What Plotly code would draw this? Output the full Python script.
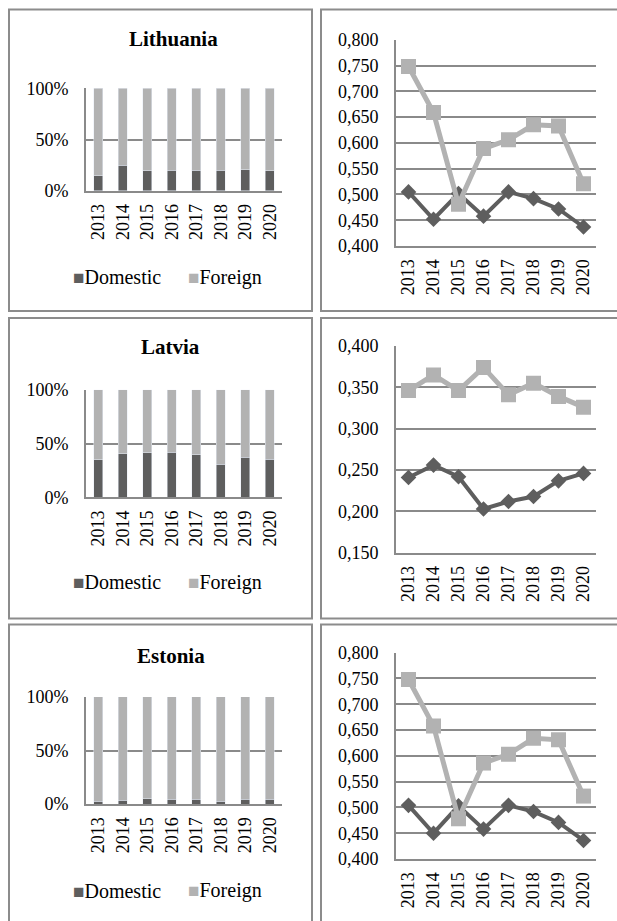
import plotly.graph_objects as go

W, H = 617, 921

years = ["2013", "2014", "2015", "2016", "2017", "2018", "2019", "2020"]
countries = ["Lithuania", "Latvia", "Estonia"]
series_names = ["Domestic", "Foreign"]

# 100% stacked shares (percent)
lt_domestic_share = [14.7, 25.0, 19.5, 20.2, 20.0, 20.0, 20.8, 19.5]
lt_foreign_share = [85.3, 75.0, 80.5, 79.8, 80.0, 80.0, 79.2, 80.5]
lv_domestic_share = [35.0, 40.6, 41.5, 41.8, 39.6, 30.7, 37.2, 35.3]
lv_foreign_share = [65.0, 59.4, 58.5, 58.2, 60.4, 69.3, 62.8, 64.7]
ee_domestic_share = [2.8, 3.7, 5.0, 4.7, 4.7, 2.8, 4.7, 4.7]
ee_foreign_share = [97.2, 96.3, 95.0, 95.3, 95.3, 97.2, 95.3, 95.3]
share_ticks = [0, 50, 100]
share_ticktext = ["0%", "50%", "100%"]

# line chart values
lt_domestic_idx = [0.505, 0.452, 0.502, 0.458, 0.505, 0.492, 0.472, 0.437]
lt_foreign_idx = [0.748, 0.659, 0.481, 0.589, 0.606, 0.635, 0.633, 0.521]
lv_domestic_idx = [0.241, 0.256, 0.242, 0.203, 0.212, 0.218, 0.237, 0.246]
lv_foreign_idx = [0.346, 0.365, 0.346, 0.374, 0.341, 0.355, 0.339, 0.326]
ee_domestic_idx = [0.504, 0.450, 0.503, 0.458, 0.504, 0.492, 0.471, 0.436]
ee_foreign_idx = [0.748, 0.658, 0.478, 0.586, 0.603, 0.634, 0.631, 0.522]

line_ranges = [[0.4, 0.8], [0.15, 0.4], [0.4, 0.8]]

DARK = "#5e5e5e"
LIGHT = "#b2b2b2"
GRID = "#8a8a8a"
BORDER = "#8c8c8c"
FONT = "Liberation Serif"

# empirical vertical correction (rendered = OFF + SCALE * layout pixel)
OFF, SCALE = 9.5, 0.98


def px(x):
    return x / W


def py(y):
    return 1 - ((y - OFF) / SCALE) / H


bar_x = [86, 282]
line_x = [396, 596]
bar_y = [[88, 190.7], [390, 497.7], [697.7, 805]]
line_y = [[39.3, 246], [346, 553.3], [653.3, 860]]
title_pos = [(173, 39), (171, 347), (170.5, 657)]
legend_y = [277, 583, 892]
legend_x = [(117, "center"), (225, "center")]

shares = [(lt_domestic_share, lt_foreign_share),
          (lv_domestic_share, lv_foreign_share),
          (ee_domestic_share, ee_foreign_share)]
idx = [(lt_domestic_idx, lt_foreign_idx),
       (lv_domestic_idx, lv_foreign_idx),
       (ee_domestic_idx, ee_foreign_idx)]

fig = go.Figure()
layout = dict(
    width=W, height=H, margin=dict(l=0, r=0, t=0, b=0, pad=0),
    paper_bgcolor="white", plot_bgcolor="white",
    font=dict(family=FONT, size=18, color="black"),
    barmode="stack", bargap=0.62, separators=", ",
    showlegend=False,
    annotations=[], shapes=[],
)

for i, name in enumerate(countries):
    bn = 2 * i + 1
    ln = 2 * i + 2
    bx = "x" if bn == 1 else f"x{bn}"
    by = "y" if bn == 1 else f"y{bn}"
    lx, ly = f"x{ln}", f"y{ln}"
    dom, forn = shares[i]
    fig.add_trace(go.Bar(x=years, y=dom, name=series_names[0], marker_color=DARK,
                         xaxis=bx, yaxis=by))
    fig.add_trace(go.Bar(x=years, y=forn, name=series_names[1], marker_color=LIGHT,
                         xaxis=bx, yaxis=by))
    d_idx, f_idx = idx[i]
    fig.add_trace(go.Scatter(x=years, y=d_idx, mode="lines+markers", name=series_names[0],
                             line=dict(color=DARK, width=4),
                             marker=dict(symbol="diamond", size=12, color=DARK),
                             xaxis=lx, yaxis=ly))
    fig.add_trace(go.Scatter(x=years, y=f_idx, mode="lines+markers", name=series_names[1],
                             line=dict(color=LIGHT, width=5),
                             marker=dict(symbol="square", size=15, color=LIGHT),
                             xaxis=lx, yaxis=ly))

    xcommon = dict(type="category", range=[-0.5, 7.5], showgrid=False, showline=True,
                   linecolor=GRID, linewidth=2, ticks="", tickangle=-90,
                   tickfont=dict(family=FONT, size=18), fixedrange=True,
                   ticklabelstandoff=4)
    ycommon = dict(showgrid=True, gridcolor=GRID, gridwidth=2, showline=True,
                   linecolor=GRID, linewidth=2, ticks="", zeroline=False,
                   tickfont=dict(family=FONT, size=18), fixedrange=True,
                   ticklabelstandoff=12)
    bxk = "xaxis" if bn == 1 else f"xaxis{bn}"
    byk = "yaxis" if bn == 1 else f"yaxis{bn}"
    layout[bxk] = dict(xcommon, domain=[px(bar_x[0]), px(bar_x[1])], anchor=by)
    layout[byk] = dict(ycommon, domain=[py(bar_y[i][1]), py(bar_y[i][0])], anchor=bx,
                       range=[0, 100], tickvals=share_ticks, ticktext=share_ticktext)
    layout[f"xaxis{ln}"] = dict(xcommon, domain=[px(line_x[0]), px(line_x[1])], anchor=ly)
    layout[f"yaxis{ln}"] = dict(ycommon, domain=[py(line_y[i][1]), py(line_y[i][0])],
                                anchor=lx, range=line_ranges[i], dtick=0.05,
                                tickformat=".3f")
    tx, ty = title_pos[i]
    layout["annotations"].append(dict(text=f"<b>{name}</b>", x=px(tx), y=py(ty),
                                      xref="paper", yref="paper", showarrow=False,
                                      xanchor="center", yanchor="middle",
                                      font=dict(family=FONT, size=21)))
    # legend entries
    for (lxp, anc), sname, col in zip(legend_x, series_names, [DARK, LIGHT]):
        layout["annotations"].append(dict(
            text=f"<span style='color:{col};font-size:19px'>■</span>{sname}",
            x=px(lxp), y=py(legend_y[i]), xref="paper", yref="paper",
            showarrow=False, xanchor=anc, yanchor="middle",
            font=dict(family=FONT, size=20, color="black")))

# table cell borders
rows = [(9, 311), (318, 619), (625, 940)]
cols = [(9, 312), (321, 630)]
for (y0, y1) in rows:
    for (x0, x1) in cols:
        layout["shapes"].append(dict(type="rect", xref="paper", yref="paper",
                                     x0=px(x0), x1=px(x1), y0=py(y1), y1=py(y0),
                                     line=dict(color=BORDER, width=2)))

fig.update_layout(**layout)
fig.write_html("out.html", config={"displayModeBar": False},
               post_script="document.body.style.margin='0';document.body.style.overflow='hidden';")
